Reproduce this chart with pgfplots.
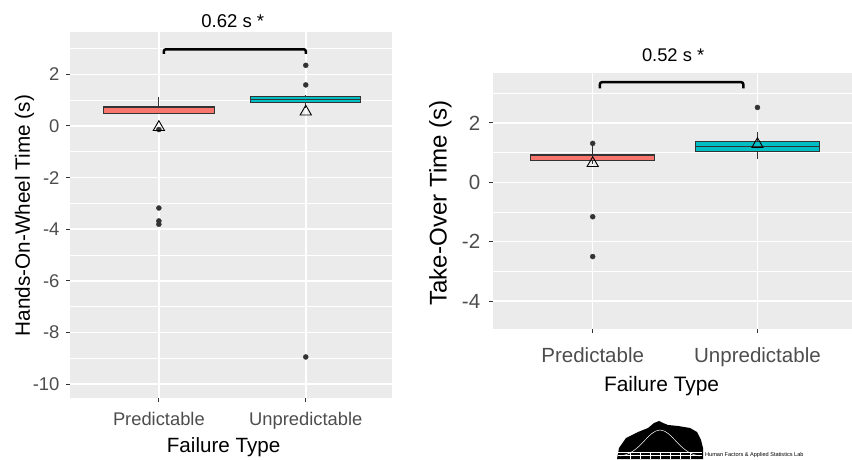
\documentclass[border=0pt]{standalone}
\usepackage{fontspec}
\setmainfont{Liberation Sans}
\usepackage{pgfplots}
\pgfplotsset{compat=1.18}
\usepgfplotslibrary{statistics}

\definecolor{ggbg}{HTML}{EBEBEB}
\definecolor{ggred}{HTML}{F8766D}
\definecolor{ggcyan}{HTML}{00BFC4}
\definecolor{ggline}{HTML}{333333}
\definecolor{ggtick}{HTML}{4D4D4D}

\pgfplotsset{
  ggpanel/.style={
    scale only axis,
    anchor=south west,
    axis background/.style={fill=ggbg},
    axis x line*=bottom, axis y line*=left,
    axis line style={draw=none},
    tick align=outside,
    major tick length=4bp, minor tick length=0pt,
    tick style={ggline, line width=0.9bp},
    xtick={1,2}, xticklabels={Predictable,Unpredictable},
    xmajorgrids, ymajorgrids, yminorgrids,
    major grid style={white, line width=1.5bp},
    minor grid style={white, line width=0.8bp},
    clip=false,
    boxplot/draw direction=y,
    boxplot/box extend=0.75,
    boxplot/whisker extend=0,
  },
  ggbox/.style={draw=ggline, line width=0.9bp, solid},
  outl/.style={only marks, mark=*, mark size=2.5bp, color=ggline},
  means/.style={only marks, mark=triangle, mark size=6.5bp,
    mark options={draw=black, line width=0.9bp, fill=none}},
}

\begin{document}
\begin{tikzpicture}
\useasboundingbox (0,0) rectangle (852bp,460bp);

% left panel: hands-on-wheel time
\begin{axis}[ggpanel,
  at={(70bp,62bp)}, width=322bp, height=366bp,
  xmin=0.395, xmax=2.587, ymin=-10.54, ymax=3.64,
  ytick={-10,-8,-6,-4,-2,0,2}, yticklabels={-10,-8,-6,-4,-2,0,2},
  minor ytick={-9,-7,-5,-3,-1,1,3},
  xticklabel style={anchor=base, yshift=-23.7bp, text=ggtick, font=\fontsize{18.4}{20}\selectfont},
  yticklabel style={anchor=east, xshift=-3bp, text=ggtick, font=\fontsize{18.5}{20}\selectfont},
  xlabel={Failure Type},
  xlabel style={at={(axis description cs:0.477,-0.1494)}, anchor=base, font=\fontsize{20.7}{22}\selectfont},
  ylabel={Hands-On-Wheel Time (s)},
  ylabel style={at={(axis description cs:-0.1413,0.4986)}, anchor=center, font=\fontsize{20.8}{22}\selectfont},
]
\addplot[ggbox, fill=ggred, boxplot prepared={draw position=1,
  lower whisker=0.47, lower quartile=0.47, median=0.70,
  upper quartile=0.74, upper whisker=1.11}] coordinates {};
\addplot[ggbox, fill=ggcyan, boxplot prepared={draw position=2,
  lower whisker=0.70, lower quartile=0.90, median=1.03,
  upper quartile=1.14, upper whisker=1.19}] coordinates {};
\addplot[outl] coordinates {(1,-0.14) (1,-3.18) (1,-3.68) (1,-3.81)
  (2,2.35) (2,1.59) (2,-8.95)};
\addplot[means] coordinates {(1,-0.05) (2,0.55)};
\draw[black, line width=2.5bp, rounded corners=2bp]
  (axis cs:1.034,2.79) -- (axis cs:1.034,2.97) -- (axis cs:2.0,2.97) -- (axis cs:2.0,2.79);
\node[font=\fontsize{18.6}{20}\selectfont] at (axis cs:1.503,4.06) {0.62 s *};
\end{axis}

% right panel: take-over time
\begin{axis}[ggpanel,
  at={(492.7bp,131bp)}, width=359.3bp, height=256.3bp,
  xmin=0.393, xmax=2.574, ymin=-4.94, ymax=3.69,
  ytick={-4,-2,0,2}, yticklabels={-4,-2,0,2},
  minor ytick={-3,-1,1,3},
  xticklabel style={anchor=base, yshift=-30bp, text=ggtick, font=\fontsize{20.6}{22}\selectfont},
  yticklabel style={anchor=east, xshift=-5bp, text=ggtick, font=\fontsize{20.6}{22}\selectfont},
  xlabel={Failure Type},
  xlabel style={at={(axis description cs:0.47,-0.2446)}, anchor=base, font=\fontsize{21}{23}\selectfont},
  ylabel={Take-Over Time (s)},
  ylabel style={at={(axis description cs:-0.1453,0.4916)}, anchor=center, font=\fontsize{24.2}{26}\selectfont},
]
\addplot[ggbox, fill=ggred, boxplot prepared={draw position=1,
  lower whisker=0.62, lower quartile=0.75, median=0.90,
  upper quartile=0.94, upper whisker=1.28}] coordinates {};
\addplot[ggbox, fill=ggcyan, boxplot prepared={draw position=2,
  lower whisker=0.77, lower quartile=1.03, median=1.20,
  upper quartile=1.39, upper whisker=1.70}] coordinates {};
\addplot[outl] coordinates {(1,1.31) (1,-1.16) (1,-2.50) (2,2.52)};
\addplot[means] coordinates {(1,0.64) (2,1.28)};
\draw[black, line width=2.5bp, rounded corners=2bp]
  (axis cs:1.044,3.16) -- (axis cs:1.044,3.37) -- (axis cs:1.914,3.37) -- (axis cs:1.914,3.16);
\node[font=\fontsize{18.4}{20}\selectfont] at (axis cs:1.488,4.29) {0.52 s *};
\end{axis}

% lab logo
\begin{scope}[x=1bp, y=1bp]
\fill[black] (617,1) -- (619,12) -- (626,22) -- (638,28) -- (648,32) -- (654,37)
  -- (659,39) -- (663,37) -- (668,35) -- (678,34) -- (690,32) -- (697,28)
  -- (701,20) -- (703,12) -- (703,1) -- cycle;
\draw[white, line width=0.5bp] (620,4) .. controls (640,6) and (648,30) .. (660,30)
  .. controls (672,30) and (680,6) .. (700,4);
\foreach \x in {630,640,650,660,670,680,690}
  \draw[white, line width=0.4bp] (\x,1) -- (\x,8);
\draw[white, line width=0.4bp] (618,5) -- (702,5) (618,8) -- (702,8);
\node[anchor=base west, inner sep=0pt, font=\fontsize{5.6}{6}\selectfont] at (705,4) {Human Factors \& Applied Statistics Lab};
\end{scope}
\end{tikzpicture}
\end{document}
